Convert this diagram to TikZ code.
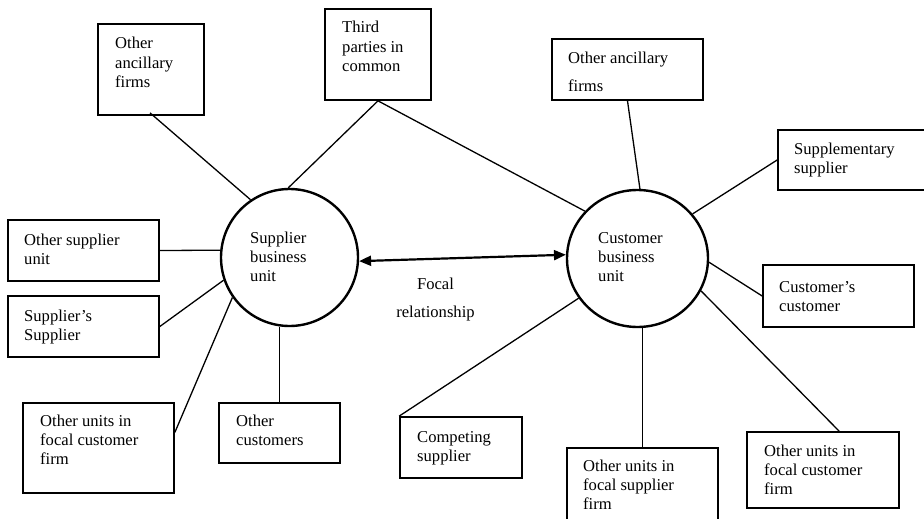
\documentclass[tikz,border=0pt]{standalone}
\usepackage{fontspec}
\setmainfont{Liberation Serif}
\usetikzlibrary{calc,arrows.meta,shapes.geometric}

\begin{document}
\begin{tikzpicture}[x=1pt,y=-1pt,
  box/.style={draw, line width=1.7pt, inner sep=0pt},
  unit/.style={draw, line width=2.4pt, inner sep=0pt},
  conn/.style={line width=1.3pt},
  % labels are placed by the baseline of their last line
  lbl/.style={inner sep=0pt, anchor=base west, align=left,
    font=\fontsize{16.6pt}{19.3pt}\selectfont},
  focal/.style={line width=2.2pt, {Triangle[length=12pt,width=10pt]}-{Triangle[length=12pt,width=10pt]}}]

\useasboundingbox (0,0) rectangle (924,519);

% the two business units
\node[unit, circle, minimum size=137pt] (sbu) at (289.5,257.5) {};
\node[unit, ellipse, minimum width=141pt, minimum height=137pt] (cbu) at (637.5,258.5) {};
\node[lbl] (tsbu) at (250,281.6) {Supplier\\business\\unit};
\node[lbl] (tcbu) at (598,281.6) {Customer\\business\\unit};

% surrounding actors
\node[box, minimum width=106pt, minimum height=91pt] (oaL) at (151,69.5) {};
\node[box, minimum width=106pt, minimum height=91pt] (tpc) at (378,54.5) {};
\node[box, minimum width=151pt, minimum height=61pt] (osu) at (83.5,250.5) {};
\node[box, minimum width=151pt, minimum height=61pt] (sss) at (83.5,326.5) {};
\node[box, minimum width=151pt, minimum height=90pt] (ouL) at (98.5,448) {};
\node[box, minimum width=121pt, minimum height=60pt] (ocu) at (279.5,433) {};
\node[box, minimum width=151pt, minimum height=61pt] (oaR) at (627.5,69.5) {};
\node[box, minimum width=151pt, minimum height=60pt] (sup) at (853.5,160) {};
\node[box, minimum width=151pt, minimum height=62pt] (ccu) at (838.5,296) {};
\node[box, minimum width=122pt, minimum height=61pt] (cps) at (461,447.5) {};
\node[box, minimum width=151pt, minimum height=90pt] (ofs) at (642.5,493) {};
\node[box, minimum width=152pt, minimum height=76pt] (ouR) at (823,470) {};

\node[lbl] (toaL) at (115,87.6) {Other\\ancillary\\firms};
\node[lbl] (ttpc) at (342,71.6) {Third\\parties in\\common};
\node[lbl] (tosu) at (24,264.3) {Other supplier\\unit};
\node[lbl] (tsss) at (24,340.3) {Supplier’s\\Supplier};
\node[lbl] (touL) at (40,464.6) {Other units in\\focal customer\\firm};
\node[lbl] (tocu) at (236,445.3) {Other\\customers};
\node[lbl] (toaR) at (568,92) {Other ancillary\\[9.5pt]firms};
\node[lbl] (tsup) at (794,173.3) {Supplementary\\supplier};
\node[lbl] (tccu) at (779,311.3) {Customer’s\\customer};
\node[lbl] (tcps) at (417,461.3) {Competing\\supplier};
\node[lbl] (tofs) at (583,509.6) {Other units in\\focal supplier\\firm};
\node[lbl] (touR) at (764,494.6) {Other units in\\focal customer\\firm};
\node[lbl, anchor=base, align=center] (tfoc) at (435.5,317.3) {Focal\\[9pt]relationship};

% focal relationship
\draw[focal] (sbu.-3) -- (cbu.177);

% ties around the supplier unit
\draw[conn] ($(oaL.south)+(-1,-3)$) -- (sbu.124);
\draw[conn] (tpc.south) -- (sbu.91);
\draw[conn] (osu.east) -- (sbu.174.6);
\draw[conn] (sss.east) -- (sbu.199);
\draw[conn] ($(ouL.north east)!0.33!(ouL.south east)$) -- (sbu.215.4);
\draw[conn] (ocu.north) -- (ocu.north |- sbu.south);

% ties around the customer unit
\draw[conn] (tpc.south) -- (cbu.138.5);
\draw[conn] (oaR.south) -- (cbu.88);
\draw[conn] (sup.west) -- (cbu.39.3);
\draw[conn] (ccu.west) -- (cbu.-3);
\draw[conn] ($(ouR.north west)!0.605!(ouR.north east)$) -- (cbu.-27.5);
\draw[conn] (ofs.north) -- (ofs.north |- cbu.south);
\draw[conn] (cps.north west) -- (cbu.214);

\end{tikzpicture}
\end{document}
